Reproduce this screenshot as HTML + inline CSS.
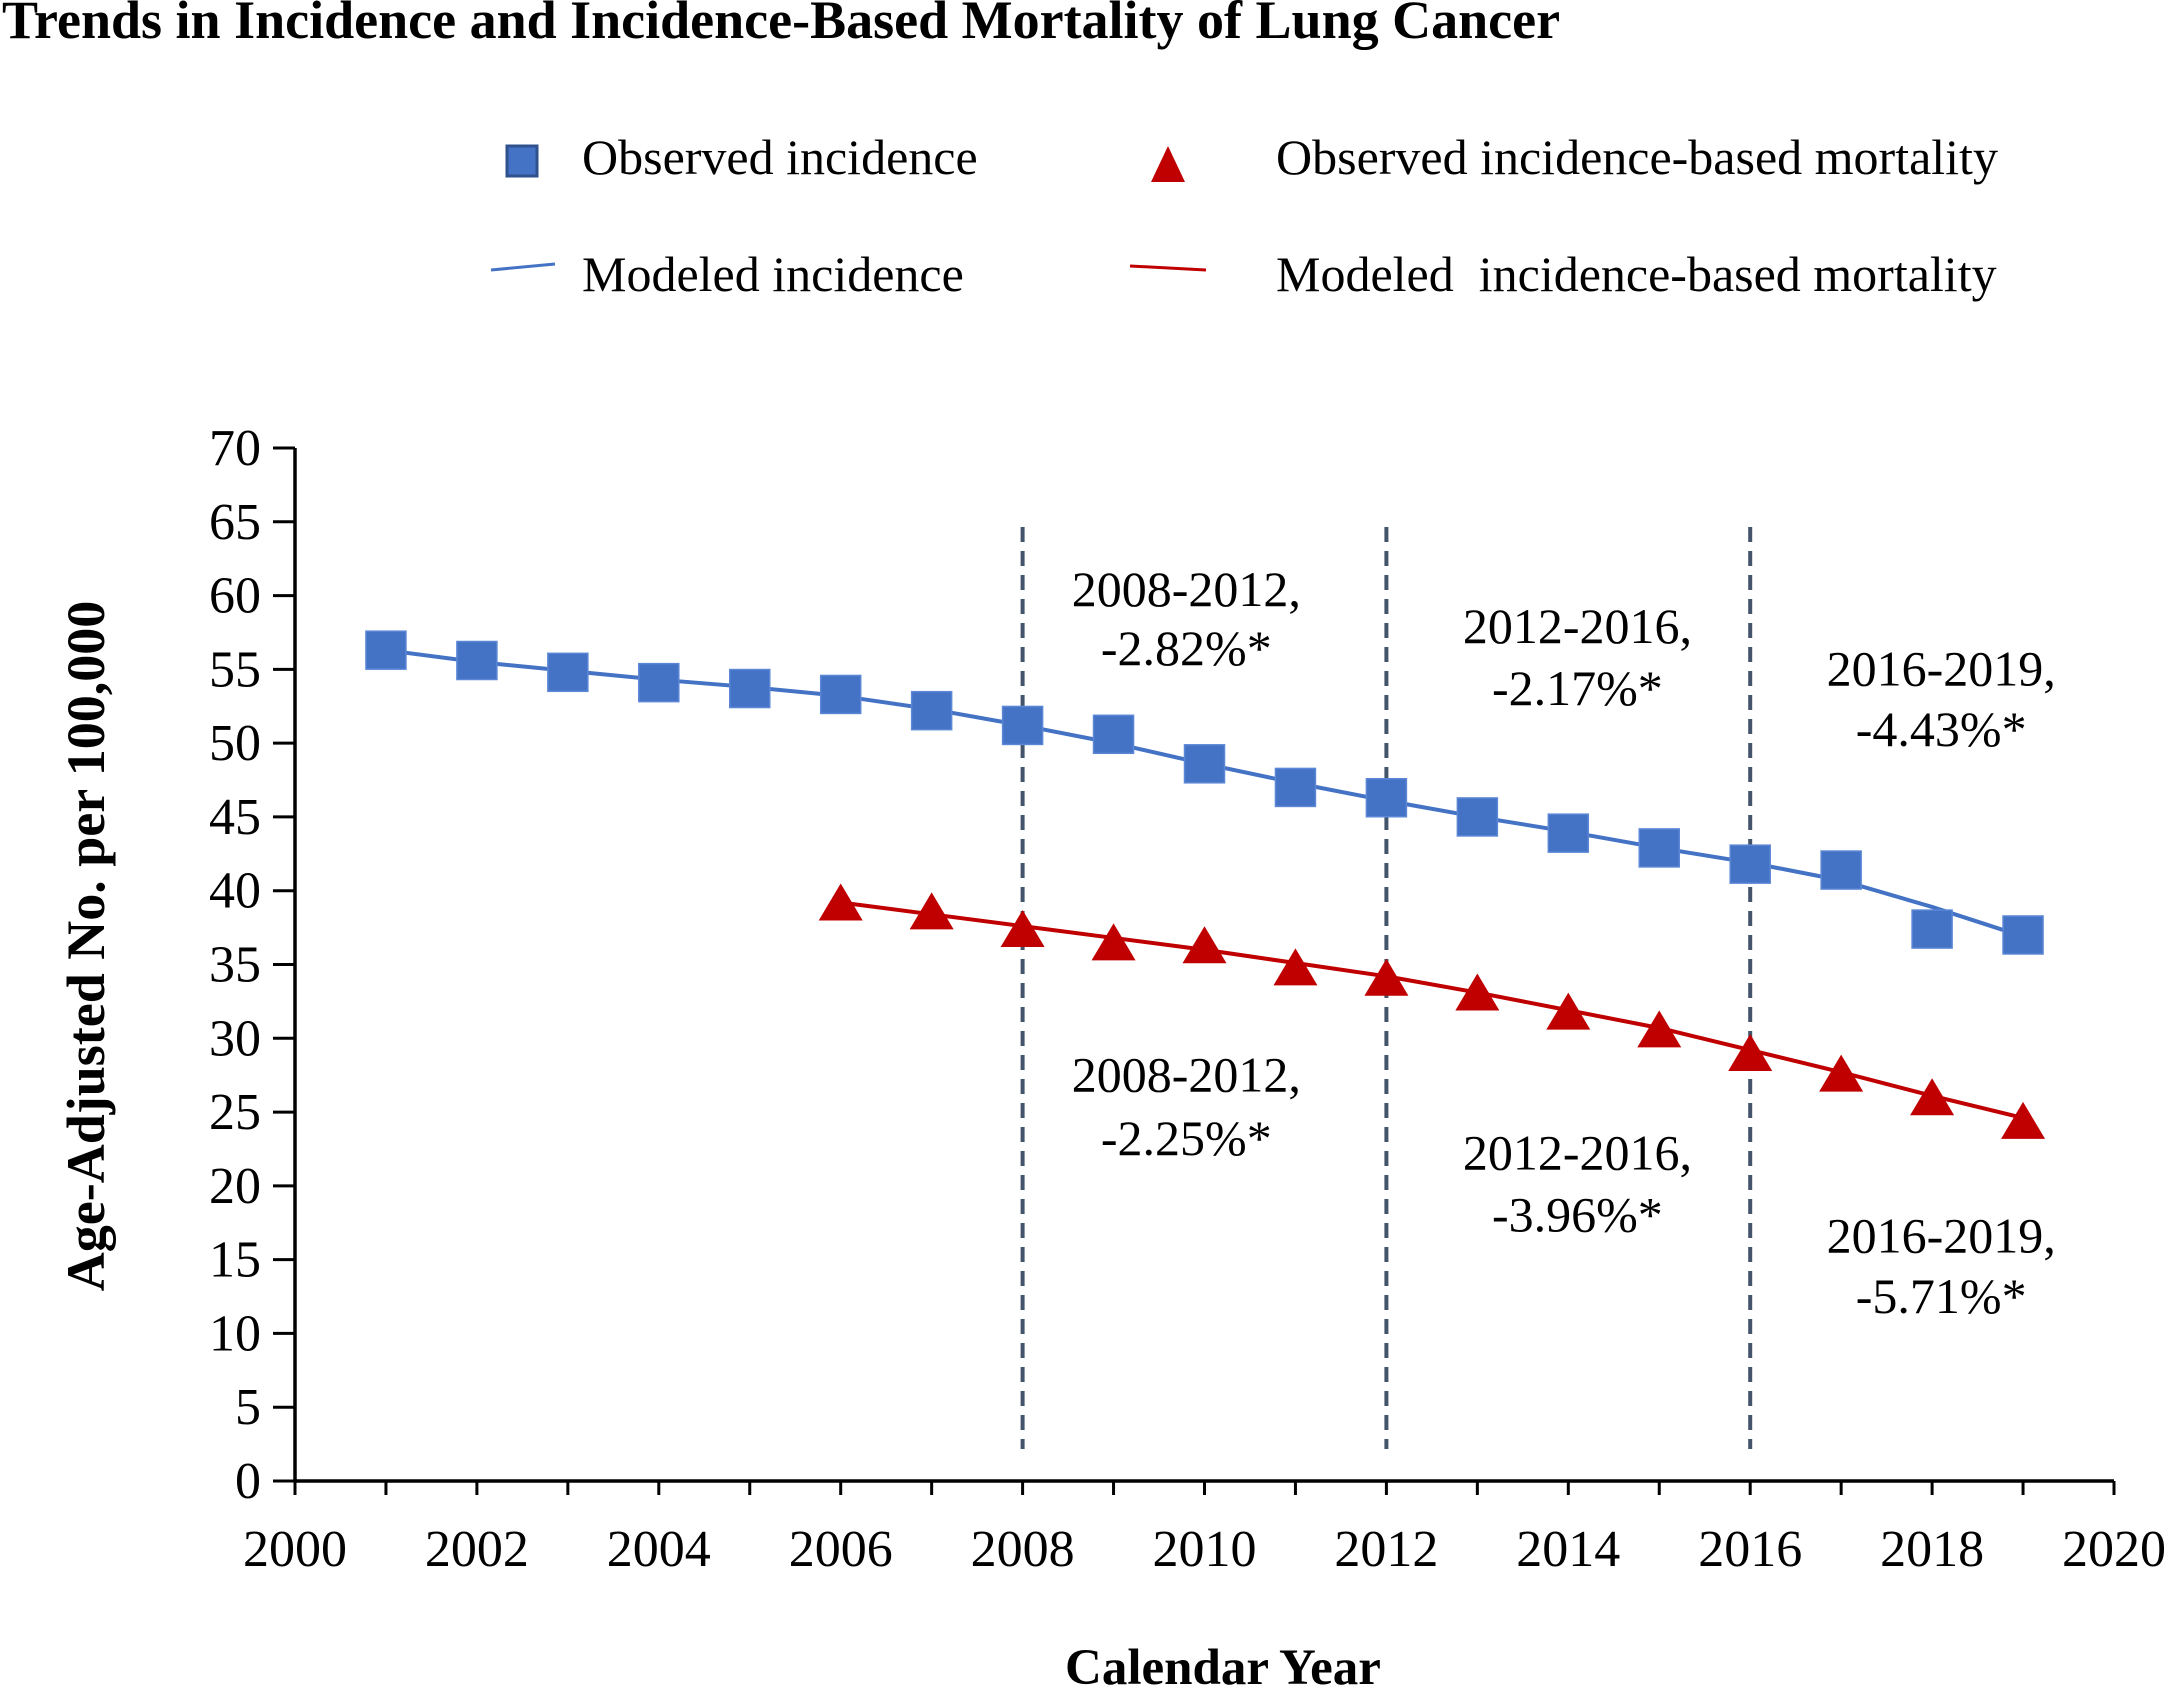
<!DOCTYPE html>
<html><head><meta charset="utf-8"><style>
html,body{margin:0;padding:0;background:#fff}
svg{display:block;font-family:"Liberation Serif",serif}
</style></head><body>
<svg id="chart" width="2174" height="1691" viewBox="0 0 2174 1691">
<text x="2" y="38" font-size="54" font-weight="bold">Trends in Incidence and Incidence-Based Mortality of Lung Cancer</text>
<g>
<rect x="507" y="146" width="30" height="30" fill="#4472c4" stroke="#2f528f" stroke-width="3"/>
<text x="582" y="174" font-size="50">Observed incidence</text>
<polygon points="1168,146 1185,182 1151,182" fill="#c00000"/>
<text x="1276" y="174" font-size="50">Observed incidence-based mortality</text>
<line x1="491" y1="270" x2="555" y2="264" stroke="#4472c4" stroke-width="3"/>
<text x="582" y="291" font-size="50">Modeled incidence</text>
<line x1="1130" y1="266" x2="1206" y2="270" stroke="#c00000" stroke-width="3"/>
<text x="1276" y="291" font-size="50" xml:space="preserve">Modeled  incidence-based mortality</text>
</g>
<g id="axes"></g>
<g id="marks"></g>
<text transform="translate(104,946) rotate(-90)" text-anchor="middle" font-size="54" font-weight="bold">Age-Adjusted No. per 100,000</text>
<text x="1223" y="1684" text-anchor="middle" font-size="51" font-weight="bold">Calendar Year</text>
</svg>
<script>
const years = [2001,2002,2003,2004,2005,2006,2007,2008,2009,2010,2011,2012,2013,2014,2015,2016,2017,2018,2019];
const obsIncidence = [56.3,55.6,54.8,54.1,53.7,53.3,52.2,51.2,50.6,48.6,47.0,46.3,45.0,43.9,42.9,41.8,41.4,37.4,37.0];
const modIncidence = [56.3,55.5,54.9,54.3,53.8,53.2,52.3,51.2,50.0,48.6,47.3,46.1,45.0,44.0,42.9,41.9,40.7,38.9,36.9];
const mortYears = [2006,2007,2008,2009,2010,2011,2012,2013,2014,2015,2016,2017,2018,2019];
const obsMortality = [39.0,38.4,37.2,36.3,36.1,34.6,33.9,32.9,31.6,30.4,28.8,27.4,25.8,24.2];
const modMortality = [39.2,38.4,37.6,36.8,36.0,35.1,34.2,33.1,31.9,30.7,29.2,27.7,26.1,24.6];
const yTicks = [0,5,10,15,20,25,30,35,40,45,50,55,60,65,70];
const xTickLabels = [2000,2002,2004,2006,2008,2010,2012,2014,2016,2018,2020];
const breakYears = [2008,2012,2016];
const annotations = [
 {x:2009.8,y:59.3,t:"2008-2012,"},{x:2009.8,y:55.3,t:"-2.82%*"},
 {x:2014.1,y:56.8,t:"2012-2016,"},{x:2014.1,y:52.6,t:"-2.17%*"},
 {x:2018.1,y:53.9,t:"2016-2019,"},{x:2018.1,y:49.8,t:"-4.43%*"},
 {x:2009.8,y:26.4,t:"2008-2012,"},{x:2009.8,y:22.1,t:"-2.25%*"},
 {x:2014.1,y:21.1,t:"2012-2016,"},{x:2014.1,y:16.9,t:"-3.96%*"},
 {x:2018.1,y:15.5,t:"2016-2019,"},{x:2018.1,y:11.4,t:"-5.71%*"}
];
const NS="http://www.w3.org/2000/svg";
const X0=295,X1=2114,Y0=1481,Y1=448;
const sx=v=>X0+(v-2000)/20*(X1-X0);
const sy=v=>Y0-v/70*(Y0-Y1);
function mk(tag,attrs,parent){const e=document.createElementNS(NS,tag);for(const k in attrs)e.setAttribute(k,attrs[k]);parent.appendChild(e);return e;}
const axes=document.getElementById('axes'),marks=document.getElementById('marks');
let a=mk('line',{x1:X0,y1:Y1,x2:X0,y2:Y0,stroke:'#000','stroke-width':3.5},axes);


a=mk('line',{x1:X0,y1:Y0,x2:X1,y2:Y0,stroke:'#000','stroke-width':3.5},axes);


yTicks.forEach(v=>{
 const t=mk('line',{x1:X0-22,y1:sy(v),x2:X0,y2:sy(v),stroke:'#000','stroke-width':3},axes);
 
 
 const l=mk('text',{x:X0-34,y:sy(v)+17,'text-anchor':'end','font-size':52},axes);
 l.textContent=v;
 
 
});
for(let yv=2000;yv<=2020;yv++){
 const t=mk('line',{x1:sx(yv),y1:Y0,x2:sx(yv),y2:Y0+14,stroke:'#000','stroke-width':3},axes);
 
 
}
xTickLabels.forEach(v=>{
 const l=mk('text',{x:sx(v),y:1566,'text-anchor':'middle','font-size':52},axes);
 l.textContent=v;
 
 
});
breakYears.forEach(v=>{
 const d=mk('line',{x1:sx(v),y1:527,x2:sx(v),y2:1449,stroke:'#44546a','stroke-width':4,'stroke-dasharray':'15,9'},marks);
 
 
});
function smooth(xs,ys){let p='M'+sx(xs[0])+','+sy(ys[0]);for(let i=1;i<xs.length;i++)p+=' L'+sx(xs[i])+','+sy(ys[i]);return p;}
let p=mk('path',{d:smooth(years,modIncidence),fill:'none',stroke:'#4472c4','stroke-width':4,'stroke-linejoin':'round'},marks);


p=mk('path',{d:smooth(mortYears,modMortality),fill:'none',stroke:'#c00000','stroke-width':4,'stroke-linejoin':'round'},marks);


years.forEach((yv,i)=>{
 const r=mk('rect',{x:sx(yv)-20,y:sy(obsIncidence[i])-19,width:40,height:38,fill:'#4472c4',stroke:'#5b87d6','stroke-width':1.5},marks);
 
 
});
mortYears.forEach((yv,i)=>{
 const cx=sx(yv),cy=sy(obsMortality[i]);
 const t=mk('polygon',{points:`${cx},${cy-22} ${cx+22},${cy+15} ${cx-22},${cy+15}`,fill:'#c00000'},marks);
 
 
});
annotations.forEach(o=>{
 const l=mk('text',{x:sx(o.x),y:sy(o.y),'text-anchor':'middle','font-size':50},marks);
 l.textContent=o.t;
 
 
});
</script>
</body></html>
